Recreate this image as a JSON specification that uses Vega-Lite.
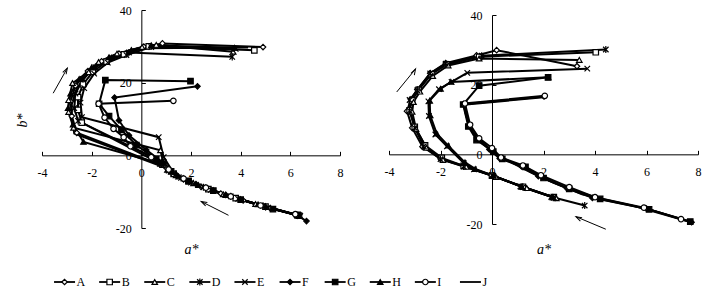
{
"$schema": "https://vega.github.io/schema/vega-lite/v6.json",
"padding": {"left": 15, "top": 4, "right": 2, "bottom": 2},
"spacing": 15,
"datasets": {
"left": [
{"s":"A","i":0,"a":6.2,"b":-16.3},{"s":"A","i":1,"a":5.2,"b":-14.6},{"s":"A","i":2,"a":4.1,"b":-12.4},{"s":"A","i":3,"a":3.2,"b":-10.5},{"s":"A","i":4,"a":2.4,"b":-8.6},{"s":"A","i":5,"a":1.7,"b":-6.6},{"s":"A","i":6,"a":1.3,"b":-5.0},{"s":"A","i":7,"a":0.97,"b":-3.2},{"s":"A","i":8,"a":-2.6,"b":6.2},{"s":"A","i":9,"a":-2.8,"b":10.8},{"s":"A","i":10,"a":-2.85,"b":14.8},{"s":"A","i":11,"a":-2.65,"b":19.2},{"s":"A","i":12,"a":-2.15,"b":23.2},{"s":"A","i":13,"a":-1.6,"b":25.9},{"s":"A","i":14,"a":-0.9,"b":28.0},{"s":"A","i":15,"a":0.1,"b":29.9},{"s":"A","i":16,"a":0.85,"b":30.8},{"s":"A","i":17,"a":4.9,"b":29.8},
{"s":"B","i":0,"a":6.35,"b":-16.6},{"s":"B","i":1,"a":5.0,"b":-14.1},{"s":"B","i":2,"a":3.8,"b":-11.8},{"s":"B","i":3,"a":2.7,"b":-9.3},{"s":"B","i":4,"a":1.9,"b":-7.2},{"s":"B","i":5,"a":1.3,"b":-5.1},{"s":"B","i":6,"a":0.85,"b":-2.6},{"s":"B","i":7,"a":-2.4,"b":9.0},{"s":"B","i":8,"a":-2.55,"b":12.5},{"s":"B","i":9,"a":-2.55,"b":16},{"s":"B","i":10,"a":-2.35,"b":19.5},{"s":"B","i":11,"a":-1.95,"b":23},{"s":"B","i":12,"a":-1.4,"b":25.8},{"s":"B","i":13,"a":-0.7,"b":27.8},{"s":"B","i":14,"a":0.3,"b":30.0},{"s":"B","i":15,"a":4.55,"b":28.9},
{"s":"C","i":0,"a":6.3,"b":-16.5},{"s":"C","i":1,"a":4.6,"b":-13.4},{"s":"C","i":2,"a":3.3,"b":-10.7},{"s":"C","i":3,"a":2.1,"b":-7.7},{"s":"C","i":4,"a":1.4,"b":-5.5},{"s":"C","i":5,"a":0.9,"b":-2.5},{"s":"C","i":6,"a":0.77,"b":1.4},{"s":"C","i":7,"a":-2.73,"b":7.6},{"s":"C","i":8,"a":-2.93,"b":11.9},{"s":"C","i":9,"a":-2.93,"b":15.2},{"s":"C","i":10,"a":-2.77,"b":19.9},{"s":"C","i":11,"a":-2.12,"b":22.9},{"s":"C","i":12,"a":-1.72,"b":25.7},{"s":"C","i":13,"a":-0.98,"b":28.0},{"s":"C","i":14,"a":0.03,"b":29.8},{"s":"C","i":15,"a":0.6,"b":30.4},{"s":"C","i":16,"a":3.7,"b":28.5},
{"s":"D","i":0,"a":6.25,"b":-16.4},{"s":"D","i":1,"a":4.9,"b":-13.9},{"s":"D","i":2,"a":3.6,"b":-11.3},{"s":"D","i":3,"a":2.5,"b":-8.8},{"s":"D","i":4,"a":1.6,"b":-6.2},{"s":"D","i":5,"a":1.1,"b":-4.2},{"s":"D","i":6,"a":0.9,"b":-2.0},{"s":"D","i":7,"a":-2.55,"b":9.5},{"s":"D","i":8,"a":-2.7,"b":13},{"s":"D","i":9,"a":-2.65,"b":17},{"s":"D","i":10,"a":-2.35,"b":21},{"s":"D","i":11,"a":-1.85,"b":24.3},{"s":"D","i":12,"a":-1.2,"b":26.8},{"s":"D","i":13,"a":-0.5,"b":28.3},{"s":"D","i":14,"a":3.66,"b":27.1},
{"s":"E","i":0,"a":6.4,"b":-16.7},{"s":"E","i":1,"a":5.1,"b":-14.4},{"s":"E","i":2,"a":3.9,"b":-12.0},{"s":"E","i":3,"a":2.8,"b":-9.5},{"s":"E","i":4,"a":2.0,"b":-7.5},{"s":"E","i":5,"a":1.3,"b":-4.9},{"s":"E","i":6,"a":0.9,"b":-0.5},{"s":"E","i":7,"a":0.7,"b":5.0},{"s":"E","i":8,"a":-2.39,"b":10.5},{"s":"E","i":9,"a":-2.45,"b":14.5},{"s":"E","i":10,"a":-2.3,"b":18.5},{"s":"E","i":11,"a":-1.9,"b":22.5},{"s":"E","i":12,"a":-1.35,"b":25.5},{"s":"E","i":13,"a":-0.6,"b":27.6},{"s":"E","i":14,"a":0.4,"b":29.8},{"s":"E","i":15,"a":3.8,"b":29.3},
{"s":"F","i":0,"a":6.65,"b":-18.1},{"s":"F","i":1,"a":6.3,"b":-16.6},{"s":"F","i":2,"a":5.0,"b":-14.2},{"s":"F","i":3,"a":3.4,"b":-10.9},{"s":"F","i":4,"a":2.2,"b":-7.9},{"s":"F","i":5,"a":1.4,"b":-5.3},{"s":"F","i":6,"a":0.9,"b":-2.2},{"s":"F","i":7,"a":0.2,"b":1.5},{"s":"F","i":8,"a":-0.5,"b":5.5},{"s":"F","i":9,"a":-0.9,"b":9.6},{"s":"F","i":10,"a":-1.08,"b":15.9},{"s":"F","i":11,"a":2.26,"b":19.0},
{"s":"G","i":0,"a":6.3,"b":-16.4},{"s":"G","i":1,"a":5.3,"b":-14.8},{"s":"G","i":2,"a":4.0,"b":-12.2},{"s":"G","i":3,"a":2.9,"b":-9.7},{"s":"G","i":4,"a":1.9,"b":-7.0},{"s":"G","i":5,"a":1.2,"b":-4.4},{"s":"G","i":6,"a":0.6,"b":-1.0},{"s":"G","i":7,"a":-0.2,"b":2.8},{"s":"G","i":8,"a":-0.8,"b":7.0},{"s":"G","i":9,"a":-1.3,"b":10.8},{"s":"G","i":10,"a":-1.7,"b":14.2},{"s":"G","i":11,"a":-1.45,"b":20.7},{"s":"G","i":12,"a":1.98,"b":20.4},
{"s":"H","i":0,"a":6.3,"b":-16.6},{"s":"H","i":1,"a":4.7,"b":-13.5},{"s":"H","i":2,"a":3.4,"b":-10.9},{"s":"H","i":3,"a":2.3,"b":-8.2},{"s":"H","i":4,"a":1.5,"b":-5.8},{"s":"H","i":5,"a":1.05,"b":-4.0},{"s":"H","i":6,"a":0.77,"b":-2.3},{"s":"H","i":7,"a":-2.33,"b":3.7},{"s":"H","i":8,"a":-2.75,"b":8.5},{"s":"H","i":9,"a":-2.95,"b":13},{"s":"H","i":10,"a":-2.85,"b":17},{"s":"H","i":11,"a":-2.5,"b":21},{"s":"H","i":12,"a":-2.0,"b":24.2},{"s":"H","i":13,"a":-1.3,"b":27},{"s":"H","i":14,"a":-0.4,"b":29},{"s":"H","i":15,"a":0.4,"b":30.3},{"s":"H","i":16,"a":3.75,"b":29.6},
{"s":"I","i":0,"a":6.2,"b":-16.2},{"s":"I","i":1,"a":4.8,"b":-13.8},{"s":"I","i":2,"a":3.6,"b":-11.3},{"s":"I","i":3,"a":2.6,"b":-8.9},{"s":"I","i":4,"a":1.7,"b":-6.4},{"s":"I","i":5,"a":1.1,"b":-3.9},{"s":"I","i":6,"a":0.4,"b":-0.5},{"s":"I","i":7,"a":-0.44,"b":2.5},{"s":"I","i":8,"a":-0.71,"b":5.0},{"s":"I","i":9,"a":-1.12,"b":7.3},{"s":"I","i":10,"a":-1.48,"b":10.4},{"s":"I","i":11,"a":-1.72,"b":14.2},{"s":"I","i":12,"a":1.29,"b":15.0},
{"s":"J","i":0,"a":6.3,"b":-16.5},{"s":"J","i":1,"a":4.4,"b":-12.9},{"s":"J","i":2,"a":3.0,"b":-10.0},{"s":"J","i":3,"a":2.0,"b":-7.5},{"s":"J","i":4,"a":1.4,"b":-5.6},{"s":"J","i":5,"a":1.0,"b":-3.5},{"s":"J","i":6,"a":-2.7,"b":6.0},{"s":"J","i":7,"a":-2.8,"b":10},{"s":"J","i":8,"a":-2.8,"b":14},{"s":"J","i":9,"a":-2.6,"b":18.5},{"s":"J","i":10,"a":-2.2,"b":22},{"s":"J","i":11,"a":-1.7,"b":25},{"s":"J","i":12,"a":-1.0,"b":27.5},{"s":"J","i":13,"a":0,"b":29.5},{"s":"J","i":14,"a":4.3,"b":29.7}
],
"right": [
{"s":"A","i":0,"a":2.45,"b":-12.5},{"s":"A","i":1,"a":1.3,"b":-9.6},{"s":"A","i":2,"a":0.1,"b":-6.3},{"s":"A","i":3,"a":-1.05,"b":-3.4},{"s":"A","i":4,"a":-2.0,"b":-1.3},{"s":"A","i":5,"a":-2.7,"b":2.2},{"s":"A","i":6,"a":-3.1,"b":7.6},{"s":"A","i":7,"a":-3.3,"b":12.4},{"s":"A","i":8,"a":-3.15,"b":15.8},{"s":"A","i":9,"a":-2.9,"b":18.6},{"s":"A","i":10,"a":-2.4,"b":23.3},{"s":"A","i":11,"a":-1.8,"b":26.2},{"s":"A","i":12,"a":-0.6,"b":28.4},{"s":"A","i":13,"a":0.18,"b":29.9},{"s":"A","i":14,"a":3.3,"b":25.3},
{"s":"B","i":0,"a":2.4,"b":-12.3},{"s":"B","i":1,"a":1.2,"b":-9.3},{"s":"B","i":2,"a":0.0,"b":-6.1},{"s":"B","i":3,"a":-1.1,"b":-3.3},{"s":"B","i":4,"a":-1.95,"b":-1.0},{"s":"B","i":5,"a":-2.6,"b":2.6},{"s":"B","i":6,"a":-3.0,"b":7.9},{"s":"B","i":7,"a":-3.2,"b":12.6},{"s":"B","i":8,"a":-3.1,"b":15.5},{"s":"B","i":9,"a":-2.85,"b":18.5},{"s":"B","i":10,"a":-2.35,"b":23.0},{"s":"B","i":11,"a":-1.75,"b":25.8},{"s":"B","i":12,"a":-0.5,"b":28.0},{"s":"B","i":13,"a":4.03,"b":29.3},
{"s":"C","i":0,"a":2.5,"b":-12.6},{"s":"C","i":1,"a":1.35,"b":-9.7},{"s":"C","i":2,"a":0.15,"b":-6.5},{"s":"C","i":3,"a":-1.0,"b":-3.6},{"s":"C","i":4,"a":-1.9,"b":-1.6},{"s":"C","i":5,"a":-2.55,"b":1.9},{"s":"C","i":6,"a":-2.95,"b":7.3},{"s":"C","i":7,"a":-3.1,"b":12.2},{"s":"C","i":8,"a":-3.05,"b":15.0},{"s":"C","i":9,"a":-2.8,"b":18.0},{"s":"C","i":10,"a":-2.3,"b":22.5},{"s":"C","i":11,"a":-1.7,"b":25.5},{"s":"C","i":12,"a":-0.5,"b":27.5},{"s":"C","i":13,"a":3.39,"b":27.1},
{"s":"D","i":0,"a":3.6,"b":-14.7},{"s":"D","i":1,"a":2.4,"b":-12.4},{"s":"D","i":2,"a":1.2,"b":-9.4},{"s":"D","i":3,"a":0.05,"b":-6.2},{"s":"D","i":4,"a":-1.1,"b":-3.5},{"s":"D","i":5,"a":-2.0,"b":-1.4},{"s":"D","i":6,"a":-2.65,"b":2.3},{"s":"D","i":7,"a":-3.0,"b":7.6},{"s":"D","i":8,"a":-3.2,"b":12.5},{"s":"D","i":9,"a":-3.2,"b":15.6},{"s":"D","i":10,"a":-2.9,"b":18.4},{"s":"D","i":11,"a":-2.4,"b":23.2},{"s":"D","i":12,"a":-1.8,"b":26.0},{"s":"D","i":13,"a":-0.4,"b":28.3},{"s":"D","i":14,"a":4.42,"b":30.1},
{"s":"E","i":0,"a":2.3,"b":-12.2},{"s":"E","i":1,"a":1.1,"b":-9.2},{"s":"E","i":2,"a":0.0,"b":-6.0},{"s":"E","i":3,"a":-0.7,"b":-4.3},{"s":"E","i":4,"a":-1.1,"b":-2.5},{"s":"E","i":5,"a":-1.75,"b":2.3},{"s":"E","i":6,"a":-2.2,"b":5.7},{"s":"E","i":7,"a":-2.45,"b":11},{"s":"E","i":8,"a":-2.47,"b":15.2},{"s":"E","i":9,"a":-2.06,"b":18.7},{"s":"E","i":10,"a":-1.57,"b":20.8},{"s":"E","i":11,"a":-0.96,"b":23.4},{"s":"E","i":12,"a":3.7,"b":24.6},
{"s":"F","i":0,"a":7.75,"b":-19.5},{"s":"F","i":1,"a":6.0,"b":-15.6},{"s":"F","i":2,"a":3.9,"b":-12.5},{"s":"F","i":3,"a":2.9,"b":-9.7},{"s":"F","i":4,"a":1.8,"b":-6.3},{"s":"F","i":5,"a":1.15,"b":-3.5},{"s":"F","i":6,"a":0.3,"b":-1.2},{"s":"F","i":7,"a":-0.1,"b":1.4},{"s":"F","i":8,"a":-0.55,"b":4.3},{"s":"F","i":9,"a":-0.9,"b":8.2},{"s":"F","i":10,"a":-1.1,"b":14.4},{"s":"F","i":11,"a":2.02,"b":16.6},
{"s":"G","i":0,"a":7.7,"b":-19.3},{"s":"G","i":1,"a":6.1,"b":-15.8},{"s":"G","i":2,"a":4.2,"b":-12.8},{"s":"G","i":3,"a":3.0,"b":-9.9},{"s":"G","i":4,"a":2.0,"b":-6.8},{"s":"G","i":5,"a":1.3,"b":-3.6},{"s":"G","i":6,"a":0.4,"b":-1.3},{"s":"G","i":7,"a":0.05,"b":0.8},{"s":"G","i":8,"a":-0.6,"b":4.1},{"s":"G","i":9,"a":-0.92,"b":8.0},{"s":"G","i":10,"a":-1.12,"b":14.3},{"s":"G","i":11,"a":-0.5,"b":19.7},{"s":"G","i":12,"a":2.18,"b":22.1},
{"s":"H","i":0,"a":2.35,"b":-12.3},{"s":"H","i":1,"a":1.15,"b":-9.3},{"s":"H","i":2,"a":0.05,"b":-6.1},{"s":"H","i":3,"a":-0.65,"b":-4.2},{"s":"H","i":4,"a":-1.05,"b":-2.3},{"s":"H","i":5,"a":-1.7,"b":2.5},{"s":"H","i":6,"a":-2.15,"b":6.0},{"s":"H","i":7,"a":-2.4,"b":11.2},{"s":"H","i":8,"a":-2.42,"b":15.4},{"s":"H","i":9,"a":-2.0,"b":18.8},{"s":"H","i":10,"a":-1.6,"b":20.8},{"s":"H","i":11,"a":2.18,"b":22.1},
{"s":"I","i":0,"a":7.34,"b":-18.6},{"s":"I","i":1,"a":5.9,"b":-15.3},{"s":"I","i":2,"a":4.0,"b":-12.3},{"s":"I","i":3,"a":3.0,"b":-9.4},{"s":"I","i":4,"a":1.9,"b":-6.0},{"s":"I","i":5,"a":1.2,"b":-3.2},{"s":"I","i":6,"a":0.35,"b":-0.9},{"s":"I","i":7,"a":0.0,"b":1.8},{"s":"I","i":8,"a":-0.5,"b":4.6},{"s":"I","i":9,"a":-0.85,"b":8.5},{"s":"I","i":10,"a":-1.05,"b":14.6},{"s":"I","i":11,"a":2.05,"b":16.8},
{"s":"J","i":0,"a":7.6,"b":-19.2},{"s":"J","i":1,"a":5.5,"b":-14.8},{"s":"J","i":2,"a":3.5,"b":-11.5},{"s":"J","i":3,"a":2.4,"b":-8.2},{"s":"J","i":4,"a":1.5,"b":-5.2},{"s":"J","i":5,"a":0.8,"b":-2.5},{"s":"J","i":6,"a":0.1,"b":0.2},{"s":"J","i":7,"a":-0.3,"b":3.0},{"s":"J","i":8,"a":-0.75,"b":6.3},{"s":"J","i":9,"a":-1.0,"b":11},{"s":"J","i":10,"a":-1.1,"b":14.2},{"s":"J","i":11,"a":2.0,"b":16.4}
],
"arrowsL": [{"dir":"up","a":-3.55,"b":17.1,"a2":-2.98,"b2":24.0},{"dir":"down","a":3.51,"b":-16.5,"a2":2.41,"b2":-12.7}],
"arrowsR": [{"dir":"up","a":-3.7,"b":17.9,"a2":-2.97,"b2":24.5},{"dir":"down","a":4.42,"b":-21.5,"a2":3.26,"b2":-17.9}],
"legend": [{"s":"A"},{"s":"B"},{"s":"C"},{"s":"D"},{"s":"E"},{"s":"F"},{"s":"G"},{"s":"H"},{"s":"I"},{"s":"J"}]
},
"vconcat": [
{
"hconcat": [
{
"width": 298, "height": 218,
"layer": [
{
"data": {"name": "left"},
"mark": {"type": "line", "color": "black", "strokeWidth": 2},
"encoding": {
"x": {"field": "a", "type": "quantitative", "scale": {"domain": [-4, 8], "nice": false, "zero": false},
"axis": {"values": [-4,-2,0,2,4,6,8], "offset": -72.67, "tickSize": -4, "labelPadding": 16, "labelFlush": false, "labelOverlap": false, "labelExpr": "'' + datum.value", "title": "a*", "titleY": 94, "titleBaseline": "middle"}},
"y": {"field": "b", "type": "quantitative", "scale": {"domain": [-20, 40], "nice": false, "zero": false},
"axis": {"values": [-20,-10,0,10,20,30,40], "offset": -99.33, "tickSize": -4, "labelPadding": 14, "labelFlush": false, "labelOverlap": false, "labelExpr": "'' + datum.value", "title": "b*", "titleX": -119, "titleY": 110, "titleBaseline": "middle"}},
"detail": {"field": "s"},
"order": {"field": "i", "type": "quantitative"}
}
},
{
"data": {"name": "left"},
"transform": [{"filter": "datum.s != 'J'"}],
"mark": {"type": "point", "filled": true, "stroke": "black", "strokeWidth": 1.2, "size": 30, "opacity": 1},
"encoding": {
"x": {"field": "a", "type": "quantitative"},
"y": {"field": "b", "type": "quantitative"},
"shape": {"field": "s", "type": "nominal", "legend": null, "scale": {"domain": ["A","B","C","D","E","F","G","H","I"], "range": ["diamond","square","triangle-up","M-1,-1L1,1M-1,1L1,-1M0,-1.3L0,1.3","M-1,-1L1,1M-1,1L1,-1","diamond","square","triangle-up","circle"]}},
"fill": {"field": "s", "type": "nominal", "legend": null, "scale": {"domain": ["A","B","C","D","E","F","G","H","I"], "range": ["white","white","white","black","black","black","black","black","white"]}}
}
},
{
"data": {"name": "arrowsL"},
"mark": {"type": "rule", "color": "black", "strokeWidth": 1},
"encoding": {
"x": {"field": "a", "type": "quantitative"},
"y": {"field": "b", "type": "quantitative"},
"x2": {"field": "a2"},
"y2": {"field": "b2"}
}
},
{
"data": {"name": "arrowsL"},
"mark": {"type": "point", "shape": "M-0.55,1.7L0,0L0.55,1.7", "size": 49, "stroke": "black", "strokeWidth": 1, "filled": false, "opacity": 1},
"encoding": {
"x": {"field": "a2", "type": "quantitative"},
"y": {"field": "b2", "type": "quantitative"},
"angle": {"field": "dir", "type": "nominal", "legend": null, "scale": {"domain": ["up","down"], "range": [29, 297]}}
}
}
]
},
{
"width": 309, "height": 218,
"layer": [
{
"data": {"name": "right"},
"mark": {"type": "line", "color": "black", "strokeWidth": 2},
"encoding": {
"x": {"field": "a", "type": "quantitative", "scale": {"domain": [-4, 8], "nice": false, "zero": false},
"axis": {"values": [-4,-2,0,2,4,6,8], "offset": -73.67, "tickSize": -4, "labelPadding": 16, "labelFlush": false, "labelOverlap": false, "labelExpr": "'' + datum.value", "title": "a*", "titleY": 95, "titleBaseline": "middle"}},
"y": {"field": "b", "type": "quantitative", "scale": {"domain": [-20, 40], "nice": false, "zero": false, "range": [214, 5]},
"axis": {"values": [-20,-10,0,10,20,30,40], "offset": -103, "tickSize": -4, "labelPadding": 14, "labelFlush": false, "labelOverlap": false, "labelExpr": "'' + datum.value", "title": null}},
"detail": {"field": "s"},
"order": {"field": "i", "type": "quantitative"}
}
},
{
"data": {"name": "right"},
"transform": [{"filter": "datum.s != 'J'"}],
"mark": {"type": "point", "filled": true, "stroke": "black", "strokeWidth": 1.2, "size": 30, "opacity": 1},
"encoding": {
"x": {"field": "a", "type": "quantitative"},
"y": {"field": "b", "type": "quantitative"},
"shape": {"field": "s", "type": "nominal", "legend": null, "scale": {"domain": ["A","B","C","D","E","F","G","H","I"], "range": ["diamond","square","triangle-up","M-1,-1L1,1M-1,1L1,-1M0,-1.3L0,1.3","M-1,-1L1,1M-1,1L1,-1","diamond","square","triangle-up","circle"]}},
"fill": {"field": "s", "type": "nominal", "legend": null, "scale": {"domain": ["A","B","C","D","E","F","G","H","I"], "range": ["white","white","white","black","black","black","black","black","white"]}}
}
},
{
"data": {"name": "arrowsR"},
"mark": {"type": "rule", "color": "black", "strokeWidth": 1},
"encoding": {
"x": {"field": "a", "type": "quantitative"},
"y": {"field": "b", "type": "quantitative"},
"x2": {"field": "a2"},
"y2": {"field": "b2"}
}
},
{
"data": {"name": "arrowsR"},
"mark": {"type": "point", "shape": "M-0.55,1.7L0,0L0.55,1.7", "size": 49, "stroke": "black", "strokeWidth": 1, "filled": false, "opacity": 1},
"encoding": {
"x": {"field": "a2", "type": "quantitative"},
"y": {"field": "b2", "type": "quantitative"},
"angle": {"field": "dir", "type": "nominal", "legend": null, "scale": {"domain": ["up","down"], "range": [39, 292]}}
}
}
]
}
],
"spacing": 49,
"bounds": "flush"
},
{
"width": 451, "height": 20,
"data": {"name": "legend"},
"encoding": {
"x": {"field": "s", "type": "nominal", "scale": {"type": "point", "padding": 0.5}, "axis": null}
},
"layer": [
{
"mark": {"type": "point", "shape": "stroke", "size": 441, "stroke": "black", "strokeWidth": 1.8, "opacity": 1}
},
{
"transform": [{"filter": "datum.s != 'J'"}],
"mark": {"type": "point", "filled": true, "stroke": "black", "strokeWidth": 1.2, "size": 30, "opacity": 1},
"encoding": {
"shape": {"field": "s", "type": "nominal", "legend": null, "scale": {"domain": ["A","B","C","D","E","F","G","H","I"], "range": ["diamond","square","triangle-up","M-1,-1L1,1M-1,1L1,-1M0,-1.3L0,1.3","M-1,-1L1,1M-1,1L1,-1","diamond","square","triangle-up","circle"]}},
"fill": {"field": "s", "type": "nominal", "legend": null, "scale": {"domain": ["A","B","C","D","E","F","G","H","I"], "range": ["white","white","white","black","black","black","black","black","white"]}}
}
},
{
"mark": {"type": "text", "align": "left", "baseline": "middle", "dx": 12, "font": "Liberation Serif", "fontSize": 12, "color": "black"},
"encoding": {"text": {"field": "s"}}
}
]
}
],
"config": {
"view": {"stroke": null},
"axis": {"grid": false, "domainColor": "black", "domainWidth": 1, "tickColor": "black", "tickWidth": 1, "labelColor": "black", "labelFont": "Liberation Serif", "labelFontSize": 12, "titleFont": "Liberation Serif", "titleFontSize": 14, "titleFontStyle": "italic", "titleFontWeight": "normal", "titleColor": "black"}
}
}
